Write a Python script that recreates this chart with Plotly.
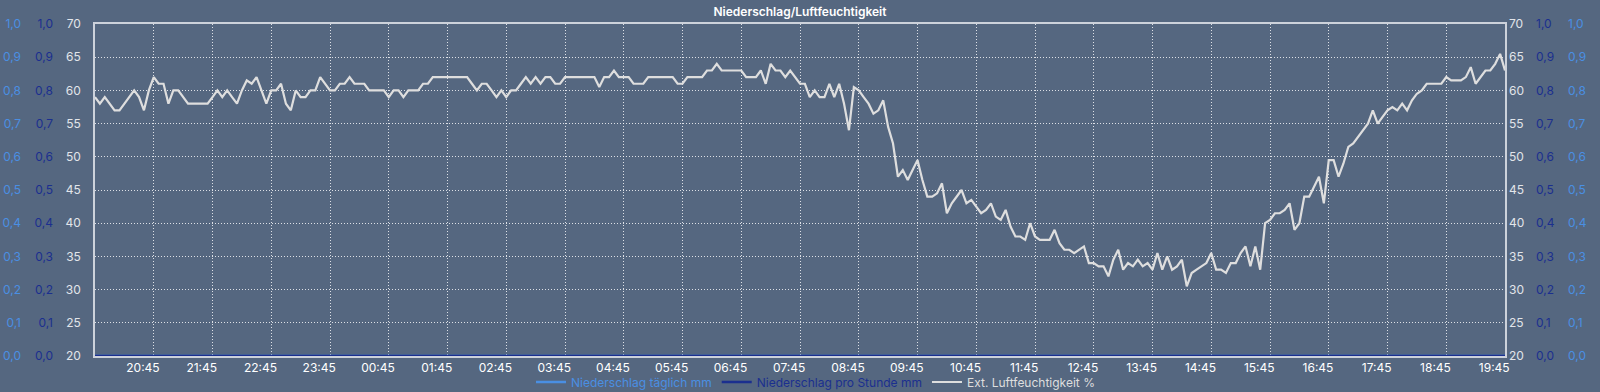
import plotly.graph_objects as go
import pandas as pd

# ---------------- data ----------------
start_time = "2024-05-01 19:56"
end_time = "2024-05-02 19:56"

# Ext. Luftfeuchtigkeit % , one value every 5 minutes starting 19:56 (one row per hour)
humidity = [
    59, 58, 59, 58, 57, 57, 58, 59, 60, 59, 57, 60,
    62, 61, 61, 58, 60, 60, 59, 58, 58, 58, 58, 58,
    59, 60, 59, 60, 59, 58, 60, 61.5, 61, 62, 60, 58,
    60, 60, 61, 58, 57, 60, 59, 59, 60, 60, 62, 61,
    60, 60, 61, 61, 62, 61, 61, 61, 60, 60, 60, 60,
    59, 60, 60, 59, 60, 60, 60, 61, 61, 62, 62, 62,
    62, 62, 62, 62, 62, 61, 60, 61, 61, 60, 59, 60,
    59, 60, 60, 61, 62, 61, 62, 61, 62, 62, 61, 61,
    62, 62, 62, 62, 62, 62, 62, 60.5, 62, 62, 63, 62,
    62, 62, 61, 61, 61, 62, 62, 62, 62, 62, 62, 61,
    61, 62, 62, 62, 62, 63, 63, 64, 63, 63, 63, 63,
    63, 62, 62, 62, 63, 61, 64, 63, 63, 62, 63, 62,
    61, 61, 59, 60, 59, 59, 61, 59, 61, 58, 54, 60.5,
    60, 59, 58, 56.5, 57, 58.5, 54.5, 52, 47, 48, 46.5, 48,
    49.5, 46.5, 44, 44, 44.5, 46, 41.5, 43, 44, 45, 43, 43.5,
    42.5, 41.5, 42, 43, 41, 40.5, 42, 39.5, 38, 38, 37.5, 40,
    38, 37.5, 37.5, 37.5, 39, 37, 36, 36, 35.5, 36, 36.5, 34,
    34, 33.5, 33.5, 32, 34.5, 36, 33, 34, 33.5, 34.5, 33.5, 34,
    33, 35.5, 33, 35, 33, 33.5, 34.5, 30.5, 32.5, 33, 33.5, 34,
    35.5, 33, 33, 32.5, 34, 34, 35.5, 36.5, 33.5, 36.5, 33, 40,
    40.5, 41.5, 41.5, 42, 43, 39, 40, 44, 44, 45.5, 47, 43,
    49.5, 49.5, 47, 49, 51.5, 52, 53, 54, 55, 57, 55, 56,
    57, 57.5, 57, 58, 57, 58.5, 59.5, 60, 61, 61, 61, 61,
    62, 61.5, 61.5, 61.5, 62, 63.5, 61, 62, 63, 63, 64, 65.5,
    63,
]

# Niederschlag (mm) - hourly samples, all zero
precip_daily = [0.0, 0.0, 0.0, 0.0, 0.0, 0.0, 0.0, 0.0, 0.0, 0.0, 0.0, 0.0, 0.0,
                0.0, 0.0, 0.0, 0.0, 0.0, 0.0, 0.0, 0.0, 0.0, 0.0, 0.0, 0.0]
precip_hourly = [0.0, 0.0, 0.0, 0.0, 0.0, 0.0, 0.0, 0.0, 0.0, 0.0, 0.0, 0.0, 0.0,
                 0.0, 0.0, 0.0, 0.0, 0.0, 0.0, 0.0, 0.0, 0.0, 0.0, 0.0, 0.0]

tick_labels = ["20:45", "21:45", "22:45", "23:45", "00:45", "01:45", "02:45", "03:45",
               "04:45", "05:45", "06:45", "07:45", "08:45", "09:45", "10:45", "11:45",
               "12:45", "13:45", "14:45", "15:45", "16:45", "17:45", "18:45", "19:45"]
first_tick = "2024-05-01 20:45"
first_grid = "2024-05-01 20:56"

series_names = ["Niederschlag täglich mm", "Niederschlag pro Stunde mm", "Ext. Luftfeuchtigkeit %"]

# ---------------- styling ----------------
W, H = 1600, 392
L, R, T, B = 95, 1505, 24, 356
BG = "#556780"
C_LIGHT = "#4a8fe3"
C_DARK = "#1b2f8f"
C_HUM = "#dedede"
C_TXT = "#e2e5ea"
FONT = "Inter"
FS = 12

hum_times = pd.date_range(start_time, periods=len(humidity), freq="5min")
precip_times = pd.date_range(start_time, periods=len(precip_daily), freq="60min")
tick_times = pd.date_range(first_tick, periods=len(tick_labels), freq="60min")

fig = go.Figure()
fig.add_trace(go.Scatter(
    x=precip_times, y=precip_daily, mode="lines", yaxis="y3",
    line=dict(color=C_LIGHT, width=2.5), cliponaxis=False,
    name=f'<span style="color:{C_LIGHT}">{series_names[0]}</span>'))
fig.add_trace(go.Scatter(
    x=precip_times, y=precip_hourly, mode="lines", yaxis="y5",
    line=dict(color=C_DARK, width=2.5), cliponaxis=False,
    name=f'<span style="color:{C_DARK}">{series_names[1]}</span>'))
fig.add_trace(go.Scatter(
    x=hum_times, y=humidity, mode="lines", yaxis="y",
    line=dict(color=C_HUM, width=2.2),
    name=f'<span style="color:{C_HUM}">{series_names[2]}</span>'))

grid_style = dict(gridcolor="rgba(255,255,255,0.8)", griddash="1px,2px", gridwidth=1)

def unit_axis(color, pos, side):
    return dict(range=[0, 1], dtick=0.1, tick0=0, tickformat=".1f", overlaying="y",
                anchor="free", position=pos, side=side, showgrid=False, zeroline=False,
                showline=False, ticks="", automargin=False,
                tickfont=dict(color=color, size=FS, family=FONT))

fig.update_layout(
    width=W, height=H,
    paper_bgcolor=BG, plot_bgcolor=BG,
    margin=dict(l=0, r=0, t=T, b=H - B, autoexpand=False),
    separators=",.",
    showlegend=True,
    hovermode=False,
    font=dict(family=FONT, size=FS, color=C_TXT),
    title=dict(text="Niederschlag/Luftfeuchtigkeit", x=0.5, xanchor="center",
               y=1 - 12 / H, yanchor="middle", yref="container",
               font=dict(size=12, color="#ffffff", family=FONT, weight=600)),
    xaxis=dict(
        domain=[L / W, R / W], type="date", automargin=False,
        range=[start_time, end_time],
        tickmode="array", tickvals=tick_times, ticktext=tick_labels,
        ticks="", showgrid=False, zeroline=False,
        showline=True, mirror=True, linecolor="#cdd2db", linewidth=1.5,
        tickfont=dict(color="#ffffff", size=FS, family=FONT),
        minor=dict(showgrid=True, tick0=first_grid, dtick=3600000, ticks="", **grid_style),
    ),
    yaxis=dict(
        range=[20, 70], dtick=5, tick0=20, automargin=False,
        showgrid=True, **grid_style, zeroline=False,
        showline=True, mirror=True, linecolor="#cdd2db", linewidth=1.5,
        ticks="", ticklabelstandoff=10,
        tickfont=dict(color=C_TXT, size=FS, family=FONT),
    ),
    yaxis2=dict(
        range=[20, 70], dtick=5, tick0=20, overlaying="y", side="right",
        anchor="x", showgrid=False, zeroline=False, showline=False, ticks="",
        automargin=False, ticklabelstandoff=3,
        tickfont=dict(color=C_TXT, size=FS, family=FONT),
    ),
    yaxis3=unit_axis(C_LIGHT, 21 / W, "left"),
    yaxis4=unit_axis(C_LIGHT, 1567 / W, "right"),
    yaxis5=unit_axis(C_DARK, 53 / W, "left"),
    yaxis6=unit_axis(C_DARK, 1535 / W, "right"),
    legend=dict(orientation="h", x=531 / W, xanchor="left", xref="paper",
                y=-(382 - B) / (B - T), yanchor="middle", bgcolor="rgba(0,0,0,0)",
                font=dict(size=FS, family=FONT), itemclick=False),
)

# dummy traces so the right-side axes are drawn
fig.add_trace(go.Scatter(x=[start_time], y=[None], yaxis="y2", showlegend=False, hoverinfo="skip"))
fig.add_trace(go.Scatter(x=[start_time], y=[None], yaxis="y4", showlegend=False, hoverinfo="skip"))
fig.add_trace(go.Scatter(x=[start_time], y=[None], yaxis="y6", showlegend=False, hoverinfo="skip"))

fig.write_html("out.html")
